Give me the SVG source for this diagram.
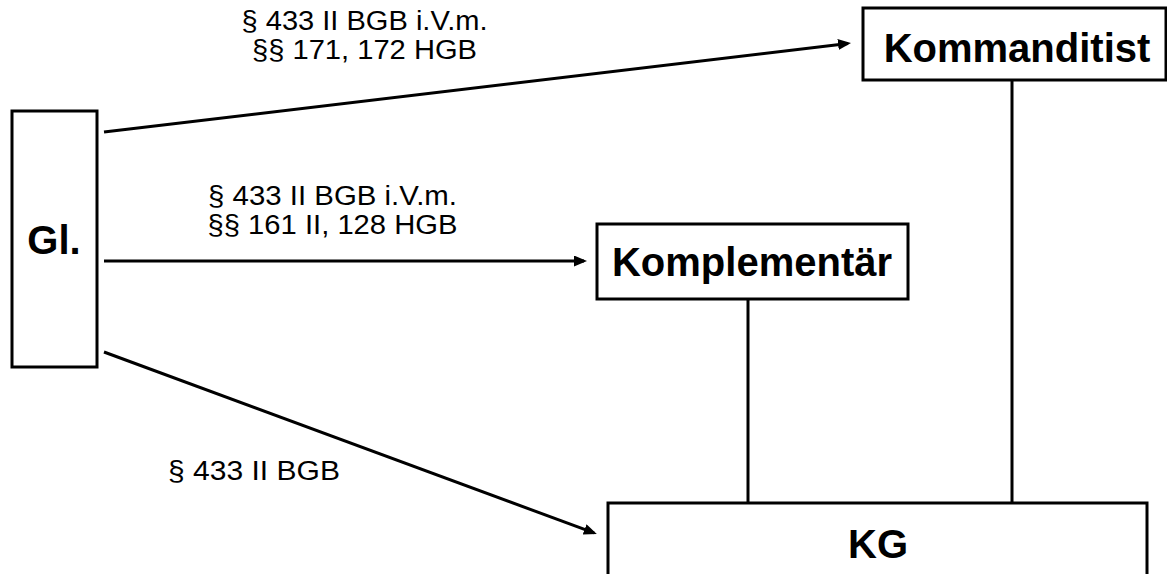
<svg xmlns="http://www.w3.org/2000/svg" width="1167" height="574" viewBox="0 0 1167 574">
<defs>
<style>
.box{fill:#fff;stroke:#000;stroke-width:3}
.lbl{font-family:"Liberation Sans",Arial,sans-serif;font-size:27px;fill:#000;text-anchor:middle}
.ttl{font-family:"Liberation Sans",Arial,sans-serif;font-size:40px;font-weight:bold;fill:#000;text-anchor:middle}
.con{stroke:#000;stroke-width:3;fill:none}
</style>
<marker id="ah" markerUnits="userSpaceOnUse" markerWidth="14" markerHeight="12" refX="10" refY="5.5" orient="auto">
<path d="M0,0 L13,5.5 L0,11 z" fill="#000"/>
</marker>
</defs>
<rect width="1167" height="574" fill="#fff"/>
<g id="connectors">
<line class="con" x1="104" y1="132" x2="848" y2="43.4" marker-end="url(#ah)"/>
<line class="con" x1="104" y1="261" x2="584" y2="261" marker-end="url(#ah)"/>
<line class="con" x1="104" y1="352" x2="594" y2="532.9" marker-end="url(#ah)"/>
<line class="con" x1="748" y1="299" x2="748" y2="503"/>
<line class="con" x1="1012" y1="80" x2="1012" y2="503"/>
<text class="lbl" x="364.5" y="30" textLength="246" lengthAdjust="spacingAndGlyphs">§ 433 II BGB i.V.m.</text>
<text class="lbl" x="364.5" y="59" textLength="225" lengthAdjust="spacingAndGlyphs">§§ 171, 172 HGB</text>
<text class="lbl" x="332.5" y="205" textLength="249" lengthAdjust="spacingAndGlyphs">§ 433 II BGB i.V.m.</text>
<text class="lbl" x="332.5" y="234" textLength="250" lengthAdjust="spacingAndGlyphs">§§ 161 II, 128 HGB</text>
<text class="lbl" x="254" y="480" textLength="172" lengthAdjust="spacingAndGlyphs">§ 433 II BGB</text>
</g>
<g id="node-gl">
<rect class="box" x="12" y="111" width="85" height="256"/>
<text class="ttl" x="54" y="254">Gl.</text>
</g>
<g id="node-kommanditist">
<rect class="box" x="863" y="8" width="303" height="72"/>
<text class="ttl" x="1017" y="62">Kommanditist</text>
</g>
<g id="node-komplementaer">
<rect class="box" x="597" y="224" width="311" height="75"/>
<text class="ttl" x="752" y="276">Komplementär</text>
</g>
<g id="node-kg">
<rect class="box" x="608" y="503" width="539" height="80"/>
<text class="ttl" x="878" y="558">KG</text>
</g>
</svg>
